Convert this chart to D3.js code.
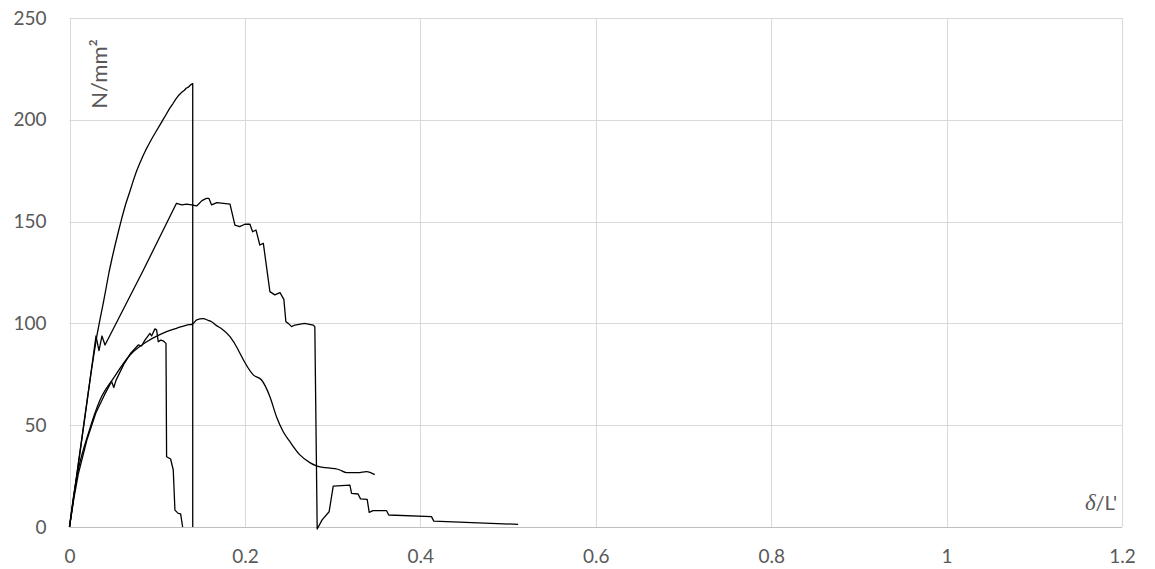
<!DOCTYPE html>
<html>
<head>
<meta charset="utf-8">
<script src="https://cdn.jsdelivr.net/npm/d3@7"></script>
<style>
  html, body { margin: 0; padding: 0; background: #fff; }
  svg { display: block; }
  .tick text { font-family: Lato, "Open Sans", sans-serif; fill: #595959; }
</style>
</head>
<body>
<script>
// ---- data ----
const xTicks = [0, 0.2, 0.4, 0.6, 0.8, 1, 1.2];
const yTicks = [0, 50, 100, 150, 200, 250];
const xTickLabels = ["0", "0.2", "0.4", "0.6", "0.8", "1", "1.2"];
const yAxisTitle = "N/mm²";
const xAxisTitleSymbol = "δ";
const xAxisTitleRest = "/L'";

const series1 = [[0,0],[0.005,15.5],[0.01,31],[0.015,46.5],[0.02,62],[0.025,77],[0.031,93.5],
  [0.035,102.5],[0.0385,110],[0.042,118],[0.045,125],[0.0485,132],[0.052,138.5],[0.056,145.5],
  [0.0595,151.5],[0.064,158.5],[0.069,165],[0.073,170.5],[0.0766,175],[0.080,178.5],[0.084,182.5],
  [0.087,185.2],[0.090,187.6],[0.094,190.8],[0.099,194.5],[0.103,197.4],[0.107,200.3],[0.11,202.5],
  [0.114,205.5],[0.118,208],[0.121,210],[0.124,211.8],[0.128,213.5],[0.131,214.5],[0.133,215.5],
  [0.136,216.2],[0.1385,217.3],[0.1405,217.8],[0.1405,0]];

const series2 = [[0,0],[0.01,30.5],[0.02,61.5],[0.0302,93.8],[0.0336,86.6],[0.037,93.8],[0.0405,89.4],
  [0.084,126],[0.122,159],[0.128,158.2],[0.1335,158.6],[0.139,158.2],[0.145,157.7],[0.151,160.3],
  [0.156,161.4],[0.159,161.4],[0.162,158.2],[0.168,159.3],[0.183,158.6],[0.1886,148.3],[0.194,147.5],
  [0.1999,148.7],[0.2057,148.7],[0.2088,145],[0.2126,145.9],[0.217,138.5],[0.221,139.3],[0.2285,115.6],
  [0.234,114],[0.240,115.1],[0.2444,111.8],[0.2467,100.8],[0.2494,100],[0.2532,98.4],[0.257,99.2],
  [0.268,100],[0.2778,99.2],[0.2797,98.4],[0.2824,-1],[0.288,3.5],[0.296,7.5],[0.3007,20.1],
  [0.3197,20.6],[0.3216,16.5],[0.329,16.2],[0.3318,13.8],[0.3394,13.6],[0.3417,7.2],[0.346,8],
  [0.3615,8],[0.364,5.9],[0.4127,5.1],[0.4154,2.9],[0.5115,1.3]];

const series3 = [[0,0],[0.005,16],[0.01,28],[0.0215,46],[0.0348,62.4],[0.05,73],[0.069,84.5],
  [0.088,91],[0.103,94.5],[0.122,97.6],[0.1336,99.2],[0.1404,99.7],[0.145,101.7],[0.1525,102.3],
  [0.158,101.5],[0.162,100.8],[0.1677,98.9],[0.173,97.5],[0.183,93.5],[0.192,87.3],[0.1943,85.3],
  [0.2095,74.7],[0.219,72.2],[0.2285,64],[0.236,54.2],[0.2437,46.8],[0.2513,41.9],[0.2627,35.4],
  [0.274,31.6],[0.2817,30],[0.3083,28],[0.3159,26.7],[0.329,26.7],[0.3387,27.2],[0.348,25.7]];

const series4 = [[0,0],[0.005,14],[0.01,26],[0.02,43],[0.03,56],[0.04,65],[0.048,71.5],[0.0505,68.5],
  [0.053,72],[0.062,80],[0.07,85.5],[0.0784,89.4],[0.0822,88.9],[0.086,91.8],[0.0917,95.1],
  [0.0936,93.8],[0.0974,97.3],[0.0993,96.8],[0.1012,91],[0.1039,91.8],[0.107,91.4],[0.11,90.2],
  [0.1107,34.5],[0.1153,33.4],[0.1183,28],[0.1202,8.3],[0.124,6.7],[0.1267,6.4],[0.129,0]];

const allSeries = [
  {pts: series1, smooth: false},
  {pts: series2, smooth: false},
  {pts: series3, smooth: true},
  {pts: series4, smooth: false}
];

// ---- layout ----
const W = 1155, H = 569;
const margin = {left: 69.5, right: 33, top: 18, bottom: 42};

const svg = d3.select("body").append("svg").attr("width", W).attr("height", H);

const x = d3.scaleLinear().domain([0, 1.2]).range([margin.left, W - margin.right]);
const y = d3.scaleLinear().domain([0, 250]).range([H - margin.bottom, margin.top]);

// gridlines
svg.append("g").selectAll("line").data(yTicks.filter(d => d > 0)).join("line")
  .attr("x1", x(0)).attr("x2", x(1.2))
  .attr("y1", d => Math.round(y(d)) + 0.5).attr("y2", d => Math.round(y(d)) + 0.5)
  .attr("stroke", "#d9d9d9").attr("stroke-width", 1);
svg.append("g").selectAll("line").data(xTicks).join("line")
  .attr("y1", y(0)).attr("y2", y(250))
  .attr("x1", d => Math.round(x(d)) + 0.5).attr("x2", d => Math.round(x(d)) + 0.5)
  .attr("stroke", "#d9d9d9").attr("stroke-width", 1);

// x axis line
svg.append("line").attr("x1", x(0)).attr("x2", x(1.2))
  .attr("y1", Math.round(y(0)) + 0.5).attr("y2", Math.round(y(0)) + 0.5)
  .attr("stroke", "#bfbfbf").attr("stroke-width", 1);

// axes (labels only)
const xAxis = d3.axisBottom(x).tickValues(xTicks).tickFormat((d, i) => xTickLabels[i]).tickSize(0).tickPadding(23);
const gx = svg.append("g").attr("transform", `translate(0,${y(0)})`).call(xAxis);
gx.select(".domain").remove();
gx.selectAll("text").attr("font-size", "19px");

const yAxis = d3.axisLeft(y).tickValues(yTicks).tickSize(0).tickPadding(23);
const gy = svg.append("g").attr("transform", `translate(${x(0)},0)`).call(yAxis);
gy.select(".domain").remove();
gy.selectAll("text").attr("font-size", "19px");

// series
const lineLin = d3.line().x(d => x(d[0])).y(d => y(d[1]));
const lineSmooth = d3.line().x(d => x(d[0])).y(d => y(d[1])).curve(d3.curveMonotoneX);
svg.append("g").selectAll("path").data(allSeries).join("path")
  .attr("d", s => (s.smooth ? lineSmooth : lineLin)(s.pts))
  .attr("fill", "none").attr("stroke", "#000")
  .attr("stroke-width", 1.3).attr("stroke-linejoin", "round");

// y axis title (rotated, inside plot)
svg.append("text")
  .attr("transform", `translate(107,74) rotate(-90)`)
  .attr("text-anchor", "middle")
  .attr("font-family", "Lato, 'Open Sans', sans-serif").attr("font-size", "22px")
  .attr("fill", "#595959")
  .text(yAxisTitle);

// x axis title
const xt = svg.append("text")
  .attr("x", 1117).attr("y", 510).attr("text-anchor", "end")
  .attr("font-family", "Lato, 'Open Sans', sans-serif").attr("font-size", "20px")
  .attr("fill", "#595959");
xt.append("tspan").attr("font-family", "'Liberation Serif', serif").attr("font-style", "italic").attr("font-size", "23px").text(xAxisTitleSymbol);
xt.append("tspan").text(xAxisTitleRest);
</script>
</body>
</html>
